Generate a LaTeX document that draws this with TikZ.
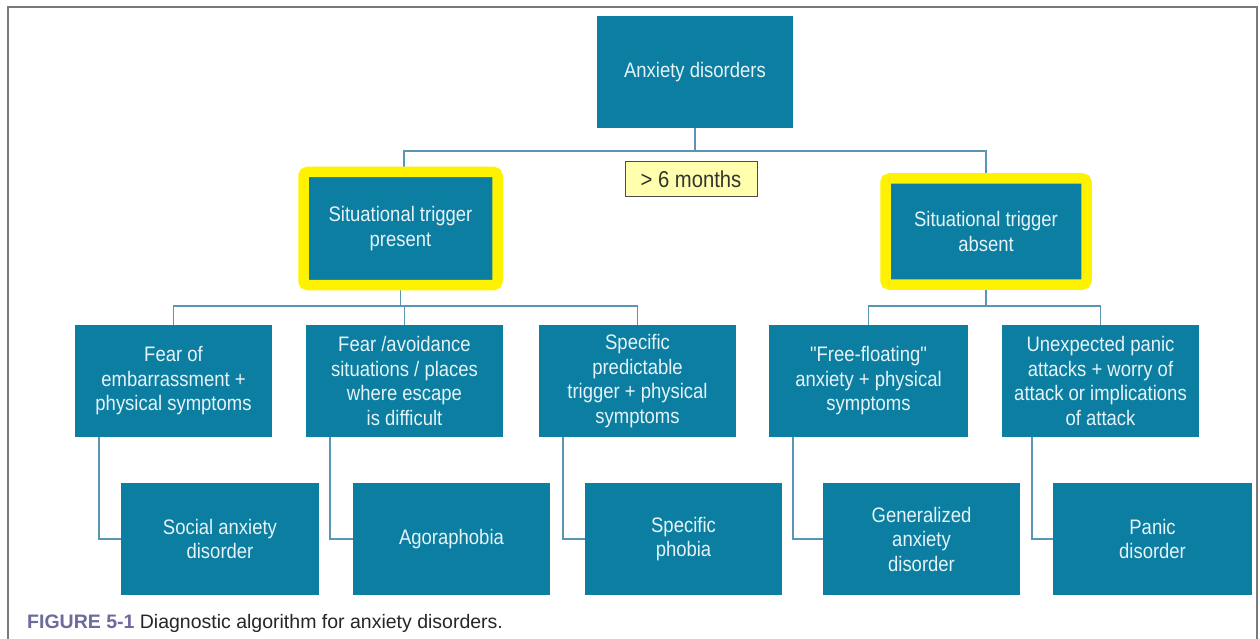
\documentclass[tikz,border=0pt]{standalone}
\usepackage{fontspec}
\setmainfont{Liberation Sans}
\newfontfamily\boxfont{Liberation Sans}[FakeStretch=0.88]
\usetikzlibrary{backgrounds}
\definecolor{teal}{HTML}{0B7EA1}
\definecolor{boxtext}{HTML}{E6F3F7}
\definecolor{wire}{HTML}{5A96B4}
\definecolor{framegray}{HTML}{7A7A7A}
\definecolor{noteyellow}{HTML}{FFFFAE}
\definecolor{figpurple}{HTML}{6D6A9E}
\begin{document}
\begin{tikzpicture}[x=1pt,y=-1pt,
  tealbox/.style={fill=teal, draw=none, text=boxtext, align=center,
    font=\boxfont\fontsize{21}{24.5}\selectfont, inner sep=0pt,
    minimum height=112pt},
  hilite/.style={tealbox, draw=yellow, line width=10.5pt, rounded corners=4pt},
  notebox/.style={fill=noteyellow, draw=black!70, line width=1pt, text=black!80,
    font=\boxfont\fontsize{23}{26}\selectfont, minimum width=132pt, minimum height=35pt, inner sep=0pt},
  wireline/.style={draw=wire, line width=1.5pt}]
\useasboundingbox (0,0) rectangle (1260,639);
% page frame (open at the bottom)
\draw[framegray, line width=2pt] (8,639) -- (8,7) -- (1257,7) -- (1257,639);

% root
\node[tealbox, minimum width=196pt] (root) at (695,72) {Anxiety disorders};
\node[notebox] (dur) at (691,179.5) {> 6 months};

% branch nodes
\node[hilite, minimum width=194pt, minimum height=113pt] (trigp) at (400.5,228.5) {Situational trigger\\present};
\node[hilite, minimum width=201pt, minimum height=106pt] (triga) at (986,231.5) {Situational trigger\\absent};

% symptom patterns
\node[tealbox, minimum width=197pt] (s1) at (173.5,381) {Fear of\\embarrassment +\\physical symptoms};
\node[tealbox, minimum width=197pt] (s2) at (404.5,381) {Fear /avoidance\\situations / places\\where escape\\is difficult};
\node[tealbox, minimum width=197pt] (s3) at (637.5,381) {Specific\\predictable\\trigger + physical\\symptoms};
\node[tealbox, minimum width=199pt] (s4) at (868.5,381) {"Free-floating"\\anxiety + physical\\symptoms};
\node[tealbox, minimum width=197pt] (s5) at (1100.5,381) {Unexpected panic\\attacks + worry of\\attack or implications\\of attack};

% diagnoses
\node[tealbox, minimum width=198pt] (d1) at (220,539) {Social anxiety\\disorder};
\node[tealbox, minimum width=197pt] (d2) at (451.5,539) {Agoraphobia};
\node[tealbox, minimum width=197pt] (d3) at (683.5,539) {Specific\\phobia};
\node[tealbox, minimum width=197pt] (d4) at (921.5,539) {Generalized\\anxiety\\disorder};
\node[tealbox, minimum width=199pt] (d5) at (1152.5,539) {Panic\\disorder};

% caption
\node[anchor=base west, inner sep=0pt, font=\fontsize{19.5}{22}\selectfont] (cap) at (27,628)
  {\textcolor{figpurple}{\textbf{FIGURE 5-1}} \textcolor{black!85}{Diagnostic algorithm for anxiety disorders.}};

% connectors, drawn behind the boxes
\begin{scope}[on background layer]
  \fill[white] (0,0) rectangle (1260,639);
  \coordinate (hub) at (695,151);
  \coordinate (busy) at (0,306);
  \draw[wireline] (root.south) -- (hub);
  \draw[wireline] (trigp.north -| 404,0) |- (hub) -| (triga.north);
  \draw[wireline] (trigp.south) -- (trigp.south |- busy);
  \draw[wireline] (s1.north) |- (s3.north |- busy) -- (s3.north);
  \draw[wireline] (s2.north) -- (s2.north |- busy);
  \draw[wireline] (triga.south) -- (triga.south |- busy);
  \draw[wireline] (s4.north) |- (s5.north |- busy) -- (s5.north);
  \draw[wireline] ([xshift=24pt]s1.south west) |- (d1.west);
  \draw[wireline] ([xshift=24pt]s2.south west) |- (d2.west);
  \draw[wireline] ([xshift=24pt]s3.south west) |- (d3.west);
  \draw[wireline] ([xshift=24pt]s4.south west) |- (d4.west);
  \draw[wireline] ([xshift=30pt]s5.south west) |- (d5.west);
\end{scope}
\end{tikzpicture}
\end{document}
